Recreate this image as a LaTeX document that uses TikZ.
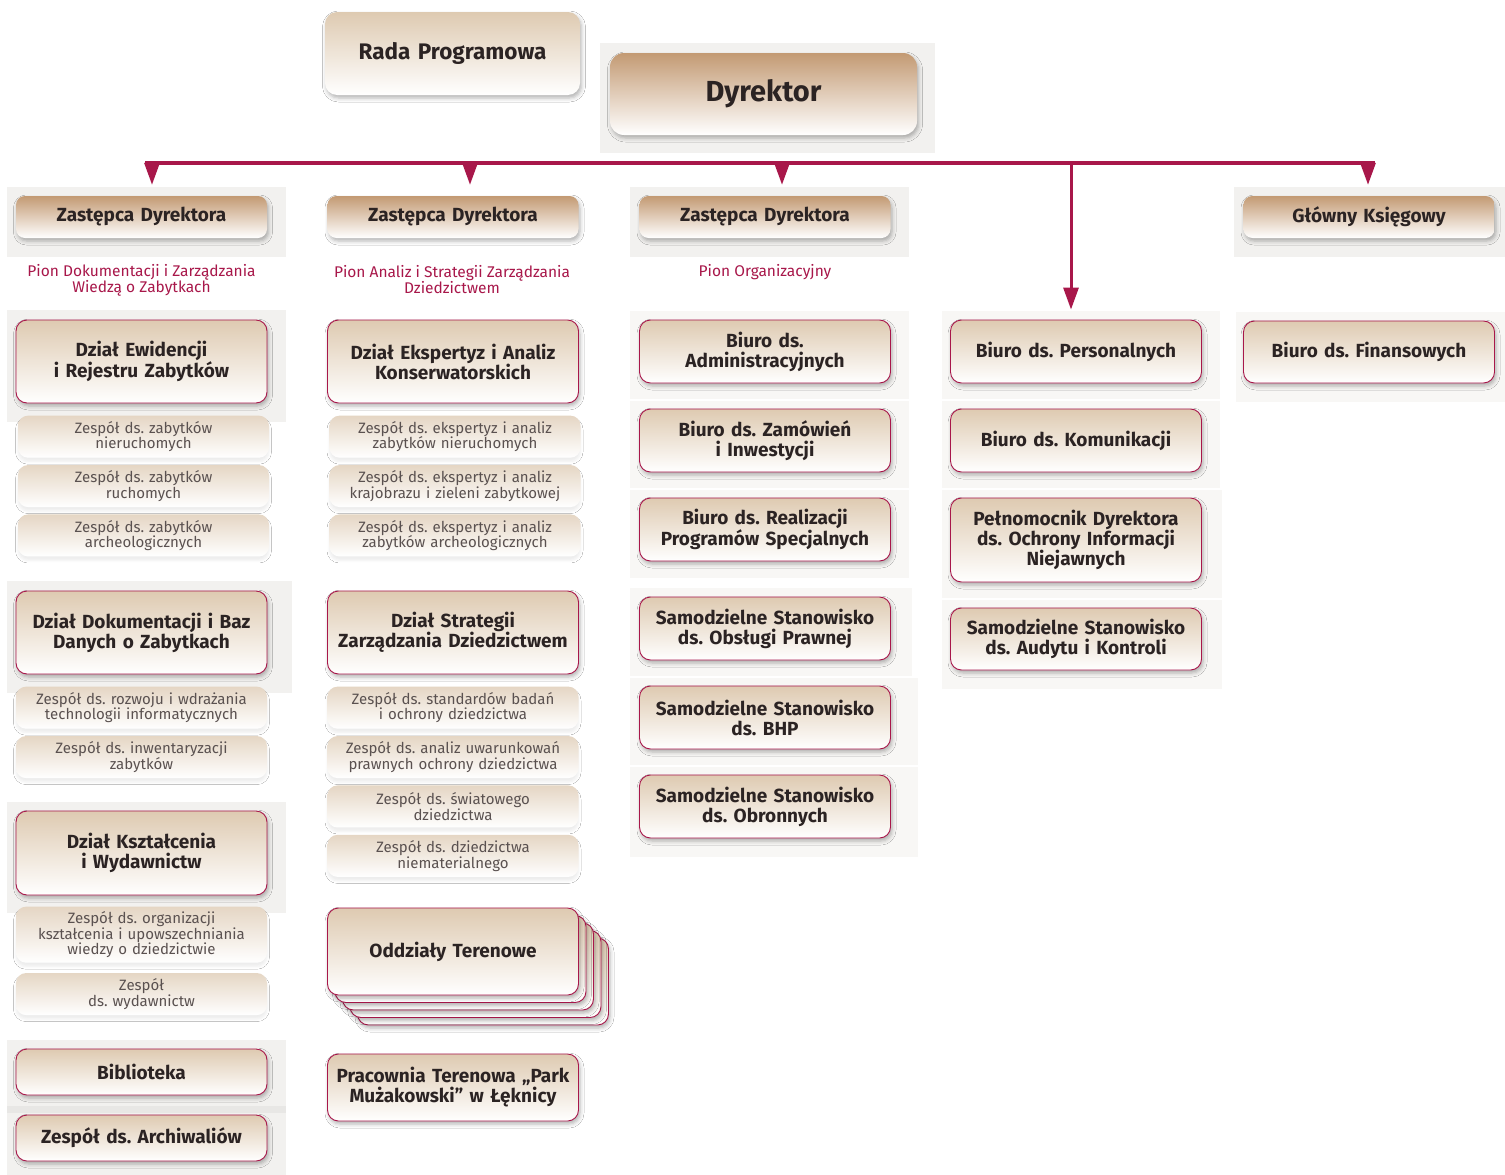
\documentclass[tikz,border=0pt]{standalone}
\usepackage{fontspec}
\setmainfont{Fira Sans}
\frenchspacing
\usetikzlibrary{arrows.meta, shadows.blur, positioning}
\definecolor{pionred}{HTML}{A8174A}
\definecolor{tanDark}{HTML}{C39A73}
\definecolor{tanLight}{HTML}{DECAB1}
\definecolor{tanPale}{HTML}{E5D6C4}
\definecolor{ink}{HTML}{2B2323}
\definecolor{zespoltext}{HTML}{5A5150}
\definecolor{panelgray}{HTML}{F2F1EF}
\definecolor{panellight}{HTML}{F8F7F5}
\definecolor{panelband}{HTML}{E8E7E5}

\begin{document}
\begin{tikzpicture}[x=1pt, y=-1pt, node distance=7pt,
    box/.style={rounded corners=11pt, text=ink, align=center, inner xsep=4pt, text width=243pt},
    shade/.style={blur shadow={shadow xshift=1.5pt, shadow yshift=-3pt, shadow blur radius=4pt, shadow opacity=30}},
    zastepca/.style={box, shade, rounded corners=9pt, top color=tanDark, bottom color=white, minimum height=42pt, font=\fontsize{19}{20}\selectfont\bfseries},
    dzial/.style={box, shade, draw=pionred, line width=0.9pt, top color=tanLight, bottom color=white, font=\fontsize{19}{20}\selectfont\bfseries},
    zespol/.style={box, rounded corners=10pt, top color=tanPale, bottom color=white, minimum height=42pt, text=zespoltext, font=\fontsize{15}{15.5}\selectfont,
        blur shadow={shadow xshift=0pt, shadow yshift=-4pt, shadow blur radius=2.5pt, shadow opacity=7}},
    pion/.style={align=center, text=pionred, font=\fontsize{15.5}{16}\selectfont},
    panel/.style={fill=panelgray},
    lpanel/.style={fill=panellight},
    bus/.style={draw=pionred, line width=4pt},
    down/.style={draw=pionred, line width=3pt, -{Triangle[length=22pt,width=15pt]}, shorten >=11pt}]

\useasboundingbox[fill=white] (0,0) rectangle (1505,1175);

% panels
\fill[panel] (600,43) rectangle (935,153);
\fill[panel] (7,187) rectangle (286,257);
\fill[panel] (630,187) rectangle (909,257);
\fill[panel] (1234,187) rectangle (1505,257);
\fill[panel] (7,310) rectangle (286,422);
\fill[panel] (7,581) rectangle (292,693);
\fill[panel] (7,802) rectangle (286,913);
\fill[panel] (7,1040) rectangle (286,1175);
\fill[panelband] (7,1106) rectangle (286,1113);
\fill[lpanel] (630,311) rectangle (909,399);
\fill[lpanel] (630,401) rectangle (909,488);
\fill[lpanel] (630,490) rectangle (909,578);
\fill[lpanel] (630,588) rectangle (912,676);
\fill[lpanel] (630,678) rectangle (918,765);
\fill[lpanel] (630,767) rectangle (918,857);
\fill[lpanel] (942,311) rectangle (1220,399);
\fill[lpanel] (942,401) rectangle (1220,488);
\fill[lpanel] (942,490) rectangle (1222,598);
\fill[lpanel] (942,600) rectangle (1222,689);
\fill[lpanel] (1236,312) rectangle (1505,402);

% top
\node[box, shade, rounded corners=12pt, top color=tanLight, bottom color=white, text width=247pt, minimum height=83pt,
    font=\fontsize{22.5}{26}\selectfont\bfseries] (rada) at (452.5,53.5) {Rada Programowa};
\node[box, shade, rounded corners=14pt, top color=tanDark, bottom color=white, text width=299pt, minimum height=82pt,
    font=\fontsize{29}{32}\selectfont\bfseries] (dyr) at (763.5,94) {Dyrektor};

\node[zastepca] (zd1) at (141.5,217) {Zastępca Dyrektora};
\node[zastepca] (zd2) at (453,217) {Zastępca Dyrektora};
\node[zastepca] (zd3) at (765,217) {Zastępca Dyrektora};
\node[zastepca] (gk) at (1369,217) {Główny Księgowy};

\node[pion] (pion1) at (141.5,280) {Pion Dokumentacji i Zarządzania\\Wiedzą o Zabytkach};
\node[pion] (pion2) at (452,280) {Pion Analiz i Strategii Zarządzania\\Dziedzictwem};
\node[pion] (pion3) at (765,272) {Pion Organizacyjny};

% pion 1
\node[dzial, minimum height=83pt] (dew) at (141.5,361.5) {Dział Ewidencji\\i Rejestru Zabytków};
\node[zespol, below=12pt of dew, xshift=2pt] (zew1) {Zespół ds. zabytków\\nieruchomych};
\node[zespol, below=of zew1] (zew2) {Zespół ds. zabytków\\ruchomych};
\node[zespol, below=of zew2] (zew3) {Zespół ds. zabytków\\archeologicznych};

\node[dzial, minimum height=83pt] (ddok) at (141.5,632.5) {Dział Dokumentacji i Baz\\Danych o Zabytkach};
\node[zespol, below=12pt of ddok] (zdok1) {Zespół ds. rozwoju i wdrażania\\technologii informatycznych};
\node[zespol, below=of zdok1] (zdok2) {Zespół ds. inwentaryzacji\\zabytków};

\node[dzial, minimum height=84pt] (dksz) at (141.5,853) {Dział Kształcenia\\i Wydawnictw};
\node[zespol, below=11pt of dksz, minimum height=56pt] (zksz1) {Zespół ds. organizacji\\kształcenia i upowszechniania\\wiedzy o dziedzictwie};
\node[zespol, below=10pt of zksz1] (zksz2) {Zespół\\ds. wydawnictw};

\node[dzial, minimum height=46pt] (bib) at (141.5,1072) {Biblioteka};
\node[dzial, minimum height=46pt] (arch) at (141.5,1138) {Zespół ds. Archiwaliów};

% pion 2
\node[dzial, minimum height=83pt] (dek) at (453,361.5) {Dział Ekspertyz i Analiz\\Konserwatorskich};
\node[zespol, below=12pt of dek, xshift=2pt] (zek1) {Zespół ds. ekspertyz i analiz\\zabytków nieruchomych};
\node[zespol, below=of zek1] (zek2) {Zespół ds. ekspertyz i analiz\\krajobrazu i zieleni zabytkowej};
\node[zespol, below=of zek2] (zek3) {Zespół ds. ekspertyz i analiz\\zabytków archeologicznych};

\node[dzial, minimum height=83pt] (dstr) at (453,632.5) {Dział Strategii\\Zarządzania Dziedzictwem};
\node[zespol, below=12pt of dstr] (zstr1) {Zespół ds. standardów badań\\i ochrony dziedzictwa};
\node[zespol, below=of zstr1] (zstr2) {Zespół ds. analiz uwarunkowań\\prawnych ochrony dziedzictwa};
\node[zespol, below=of zstr2] (zstr3) {Zespół ds. światowego\\dziedzictwa};
\node[zespol, below=of zstr3] (zstr4) {Zespół ds. dziedzictwa\\niematerialnego};

\foreach \k in {4,3,2,1}
    \node[dzial, minimum height=87pt] (odd\k) at (453+7.5*\k,951.5+7.5*\k) {};
\node[dzial, minimum height=87pt] (odd) at (453,951.5) {Oddziały Terenowe};
\node[dzial, minimum height=67pt] (prac) at (453,1087.5) {Pracownia Terenowa „Park\\Mużakowski” w Łęknicy};

% pion 3
\node[dzial, minimum height=63pt] (badm) at (765,351.5) {Biuro ds.\\Administracyjnych};
\node[dzial, minimum height=63pt] (bzam) at (765,440.5) {Biuro ds. Zamówień\\i Inwestycji};
\node[dzial, minimum height=63pt] (breal) at (765,529.5) {Biuro ds. Realizacji\\Programów Specjalnych};
\node[dzial, minimum height=63pt] (sprawn) at (765,628.5) {Samodzielne Stanowisko\\ds. Obsługi Prawnej};
\node[dzial, minimum height=63pt] (sbhp) at (765,717.5) {Samodzielne Stanowisko\\ds. BHP};
\node[dzial, minimum height=63pt] (sobr) at (765,806.5) {Samodzielne Stanowisko\\ds. Obronnych};

% dyrektor
\node[dzial, minimum height=63pt] (bpers) at (1076,351.5) {Biuro ds. Personalnych};
\node[dzial, minimum height=63pt] (bkom) at (1076,440.5) {Biuro ds. Komunikacji};
\node[dzial, minimum height=84pt] (pelno) at (1076,540) {Pełnomocnik Dyrektora\\ds. Ochrony Informacji\\Niejawnych};
\node[dzial, minimum height=62pt] (saud) at (1076,639) {Samodzielne Stanowisko\\ds. Audytu i Kontroli};

% ksiegowy
\node[dzial, minimum height=62pt] (bfin) at (1369,352) {Biuro ds. Finansowych};

% connectors
\coordinate (busL) at (145,163);
\coordinate (busR) at (1375,163);
\coordinate (a1) at (152,163);
\coordinate (a2) at (470,163);
\coordinate (a3) at (782,163);
\coordinate (a4) at (1071,163);
\coordinate (a5) at (1368,163);
\draw[bus] (busL) -- (busR);
\draw[down] (a1) -- (a1 |- zd1.north);
\draw[down] (a2) -- (a2 |- zd2.north);
\draw[down] (a3) -- (a3 |- zd3.north);
\draw[down] (a5) -- (a5 |- gk.north);
\draw[down, shorten >=10pt] (a4) -- (a4 |- bpers.north);

\end{tikzpicture}
\end{document}
